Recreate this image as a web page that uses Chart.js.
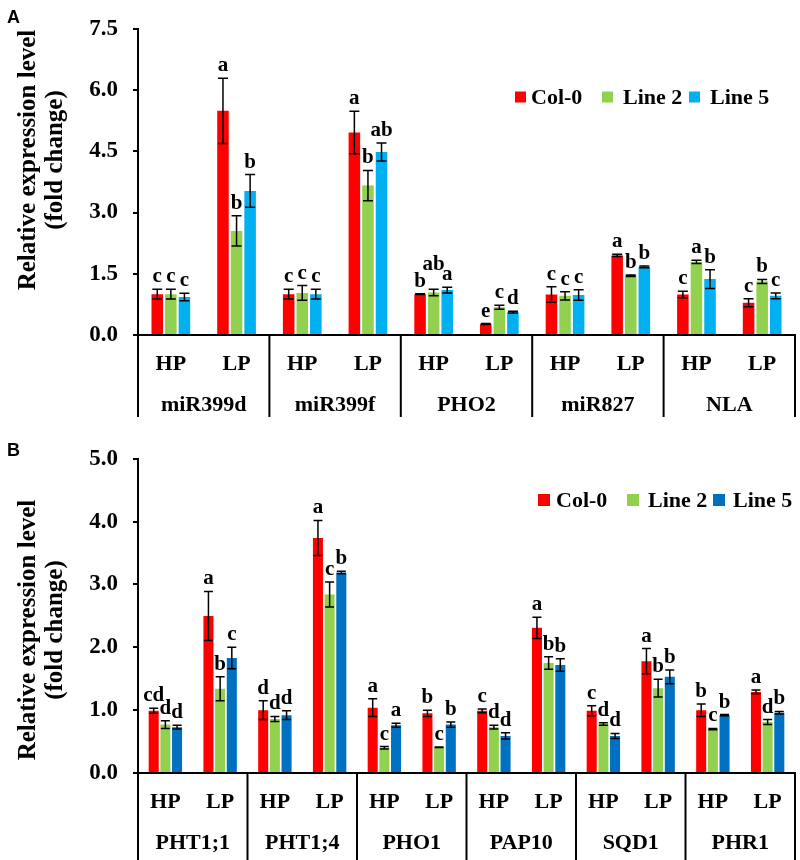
<!DOCTYPE html>
<html><head><meta charset="utf-8">
<script src="https://cdn.jsdelivr.net/npm/chart.js@4.4.1/dist/chart.umd.min.js"></script>
<style>
html,body{margin:0;padding:0;background:#fff;}
#wrap{position:relative;width:800px;height:860px;overflow:hidden;}
.c{position:absolute;left:0;width:800px;height:430px;}
</style></head><body>
<div id="wrap">
<div class="c" style="top:0"><canvas id="chartA" width="800" height="430"></canvas></div>
<div class="c" style="top:430px"><canvas id="chartB" width="800" height="430"></canvas></div>
</div>
<script>
// ---------- Data ----------
const seriesNames = ['Col-0', 'Line 2', 'Line 5'];
const conditions = ['HP', 'LP'];
const yTitle = ['Relative expression level', '(fold change)'];

// Panel A
const genesA = ['miR399d', 'miR399f', 'PHO2', 'miR827', 'NLA'];
const yTicksA = [0.0, 1.5, 3.0, 4.5, 6.0, 7.5];
const col0A     = [1.00, 5.49, 1.00, 4.96, 1.00, 0.27, 0.99, 1.95, 0.99, 0.79];
const col0ErrA  = [0.12, 0.80, 0.12, 0.52, 0.01, 0.01, 0.19, 0.03, 0.08, 0.10];
const line2A    = [1.00, 2.55, 1.03, 3.66, 1.04, 0.68, 0.96, 1.45, 1.79, 1.31];
const line2ErrA = [0.12, 0.37, 0.18, 0.37, 0.08, 0.05, 0.10, 0.02, 0.04, 0.05];
const line5A    = [0.93, 3.53, 1.00, 4.48, 1.10, 0.56, 0.98, 1.67, 1.37, 0.96];
const line5ErrA = [0.09, 0.40, 0.12, 0.22, 0.07, 0.02, 0.13, 0.02, 0.23, 0.07];
const col0LetA  = ['c','a','c','a','b','e','c','a','c','c'];
const line2LetA = ['c','b','c','b','ab','c','c','b','a','b'];
const line5LetA = ['c','b','c','ab','a','d','c','b','b','c'];

// Panel B
const genesB = ['PHT1;1', 'PHT1;4', 'PHO1', 'PAP10', 'SQD1', 'PHR1'];
const yTicksB = [0.0, 1.0, 2.0, 3.0, 4.0, 5.0];
const col0B     = [0.99, 2.50, 1.00, 3.74, 1.04, 0.95, 0.99, 2.31, 0.99, 1.78, 1.00, 1.29];
const col0ErrB  = [0.04, 0.39, 0.15, 0.28, 0.14, 0.05, 0.03, 0.17, 0.08, 0.20, 0.10, 0.03];
const line2B    = [0.77, 1.34, 0.86, 2.84, 0.40, 0.41, 0.73, 1.75, 0.78, 1.35, 0.70, 0.81];
const line2ErrB = [0.06, 0.19, 0.04, 0.20, 0.02, 0.005, 0.03, 0.10, 0.02, 0.14, 0.01, 0.04];
const line5B    = [0.73, 1.83, 0.92, 3.19, 0.76, 0.77, 0.59, 1.72, 0.59, 1.53, 0.92, 0.96];
const line5ErrB = [0.03, 0.17, 0.07, 0.02, 0.03, 0.04, 0.05, 0.10, 0.04, 0.11, 0.01, 0.02];
const col0LetB  = ['cd','a','d','a','a','b','c','a','c','a','b','a'];
const line2LetB = ['d','b','d','c','c','c','d','b','d','b','c','d'];
const line5LetB = ['d','c','d','b','a','b','d','b','d','b','b','b'];

// ---------- Rendering ----------
const SERIF = "'Liberation Serif', 'Times New Roman', serif";
const SANS = "'Liberation Sans', Arial, sans-serif";

function makePanel(id, o) {
  const labels = [];
  o.genes.forEach(() => conditions.forEach(c => labels.push(c)));
  const datasets = o.values.map((vals, i) => ({
    label: seriesNames[i],
    data: vals,
    backgroundColor: o.colors[i],
    borderWidth: 0,
    categoryPercentage: o.catPct,
    barPercentage: o.barPct,
    errors: o.errors[i],
    letters: o.letters[i]
  }));

  const overlay = {
    id: 'overlay' + id,
    afterDatasetsDraw(chart) {
      const ctx = chart.ctx, ys = chart.scales.y;
      ctx.save();
      ctx.strokeStyle = '#000';
      ctx.lineWidth = 1.5;
      chart.data.datasets.forEach((ds, i) => {
        const meta = chart.getDatasetMeta(i);
        meta.data.forEach((bar, j) => {
          const v = ds.data[j], e = ds.errors[j];
          const yt = ys.getPixelForValue(v + e), yb = ys.getPixelForValue(v - e);
          const x = bar.x, cw = o.cap / 2;
          ctx.beginPath();
          ctx.moveTo(x, yt); ctx.lineTo(x, yb);
          ctx.moveTo(x - cw, yt); ctx.lineTo(x + cw, yt);
          ctx.moveTo(x - cw, yb); ctx.lineTo(x + cw, yb);
          ctx.stroke();
        });
      });
      // significance letters (nudged up when they would clearly overlap a neighbour)
      ctx.fillStyle = '#000';
      ctx.font = 'bold 21px ' + SERIF;
      ctx.textAlign = 'center';
      ctx.textBaseline = 'alphabetic';
      const nCat = chart.data.labels.length;
      for (let j = 0; j < nCat; j++) {
        const placed = [];
        chart.data.datasets.forEach((ds, i) => {
          const bar = chart.getDatasetMeta(i).data[j];
          const txt = ds.letters[j];
          const w = ctx.measureText(txt).width;
          let base = ys.getPixelForValue(ds.data[j] + ds.errors[j]) - 7;
          const x0 = bar.x - w / 2, x1 = bar.x + w / 2;
          placed.forEach(p => {
            const hOverlap = Math.min(x1, p.x1) - Math.max(x0, p.x0);
            if (hOverlap > 2 && Math.abs(base - p.base) < 9) base = p.base - 17;
          });
          placed.push({ x0, x1, base });
          ctx.fillText(txt, bar.x, base);
        });
      }
      ctx.restore();
    },
    afterDraw(chart) {
      const ctx = chart.ctx, xs = chart.scales.x, ca = chart.chartArea;
      ctx.save();
      // category table separators
      ctx.strokeStyle = '#000';
      ctx.lineWidth = 2;
      const n = o.genes.length;
      for (let k = 0; k <= n; k++) {
        let x;
        if (k === 0) x = ca.left;
        else if (k === n) x = ca.right;
        else x = (xs.getPixelForValue(2 * k - 1) + xs.getPixelForValue(2 * k)) / 2;
        ctx.beginPath();
        ctx.moveTo(x, ca.bottom);
        ctx.lineTo(x, o.tableBottom);
        ctx.stroke();
      }
      // gene names
      ctx.fillStyle = '#000';
      ctx.font = 'bold 22px ' + SERIF;
      ctx.textAlign = 'center';
      ctx.textBaseline = 'middle';
      o.genes.forEach((g, k) => {
        const x = (xs.getPixelForValue(2 * k) + xs.getPixelForValue(2 * k + 1)) / 2;
        ctx.fillText(g, x, o.geneY);
      });
      // legend
      chart.data.datasets.forEach((ds, i) => {
        ctx.fillStyle = ds.backgroundColor;
        ctx.fillRect(o.legSq[i], o.legY - o.legSize / 2, o.legSize, o.legSize);
        ctx.fillStyle = '#000';
        ctx.textAlign = 'left';
        ctx.fillText(ds.label, o.legTx[i], o.legY + 1);
      });
      // y axis title (two lines, rotated)
      ctx.save();
      ctx.font = 'bold 25px ' + SERIF;
      ctx.textAlign = 'center';
      ctx.textBaseline = 'middle';
      yTitle.forEach((t, i) => {
        ctx.save();
        ctx.translate(o.titleX[i], o.titleY);
        ctx.rotate(-Math.PI / 2);
        ctx.fillText(t, 0, 0);
        ctx.restore();
      });
      ctx.restore();
      // panel letter
      ctx.font = 'bold 18px ' + SANS;
      ctx.textAlign = 'left';
      ctx.textBaseline = 'top';
      ctx.fillText(o.panel, 7, o.panelY);
      ctx.restore();
    }
  };

  return new Chart(document.getElementById(id), {
    type: 'bar',
    data: { labels, datasets },
    plugins: [overlay],
    options: {
      responsive: false,
      animation: false,
      devicePixelRatio: 1,
      layout: { padding: { top: o.padTop, right: 5, left: 0, bottom: 0 } },
      plugins: { legend: { display: false }, tooltip: { enabled: false } },
      scales: {
        x: {
          grid: { display: false },
          border: { display: true, color: '#000', width: 2 },
          ticks: { color: '#000', font: { family: SERIF, size: 22, weight: 'bold' }, padding: o.xPad, maxRotation: 0, autoSkip: false },
          afterFit(s) { s.height = o.xHeight; }
        },
        y: {
          min: o.yTicks[0],
          max: o.yTicks[o.yTicks.length - 1],
          afterBuildTicks(s) { s.ticks = o.yTicks.map(v => ({ value: v })); },
          grid: { display: true, drawOnChartArea: false, drawTicks: true, tickLength: 5, color: '#000', lineWidth: 2 },
          border: { display: true, color: '#000', width: 2 },
          ticks: { color: '#000', font: { family: SERIF, size: 23, weight: 'bold' }, padding: 15, callback: v => Number(v).toFixed(1) },
          title: { display: false },
          afterFit(s) { s.width = 138; }
        }
      }
    }
  });
}

makePanel('chartA', {
  panel: 'A', panelY: 9,
  genes: genesA, yTicks: yTicksA,
  values: [col0A, line2A, line5A],
  errors: [col0ErrA, line2ErrA, line5ErrA],
  letters: [col0LetA, line2LetA, line5LetA],
  colors: ['#FF0000', '#92D050', '#00B0F0'],
  catPct: 0.62, barPct: 0.85, cap: 10,
  padTop: 11, xHeight: 95, xPad: 8,
  tableBottom: 417, geneY: 405,
  legSq: [515, 602, 689], legTx: [531, 623, 710], legY: 97, legSize: 11,
  titleX: [29, 56], titleY: 160
});

makePanel('chartB', {
  panel: 'B', panelY: 12,
  genes: genesB, yTicks: yTicksB,
  values: [col0B, line2B, line5B],
  errors: [col0ErrB, line2ErrB, line5ErrB],
  letters: [col0LetB, line2LetB, line5LetB],
  colors: ['#FF0000', '#92D050', '#0070C0'],
  catPct: 0.64, barPct: 0.86, cap: 9,
  padTop: 20, xHeight: 87, xPad: 8,
  tableBottom: 430, geneY: 413,
  legSq: [538, 627, 713], legTx: [556, 648, 733], legY: 70, legSize: 12,
  titleX: [29, 56], titleY: 200
});
</script>
</body></html>
